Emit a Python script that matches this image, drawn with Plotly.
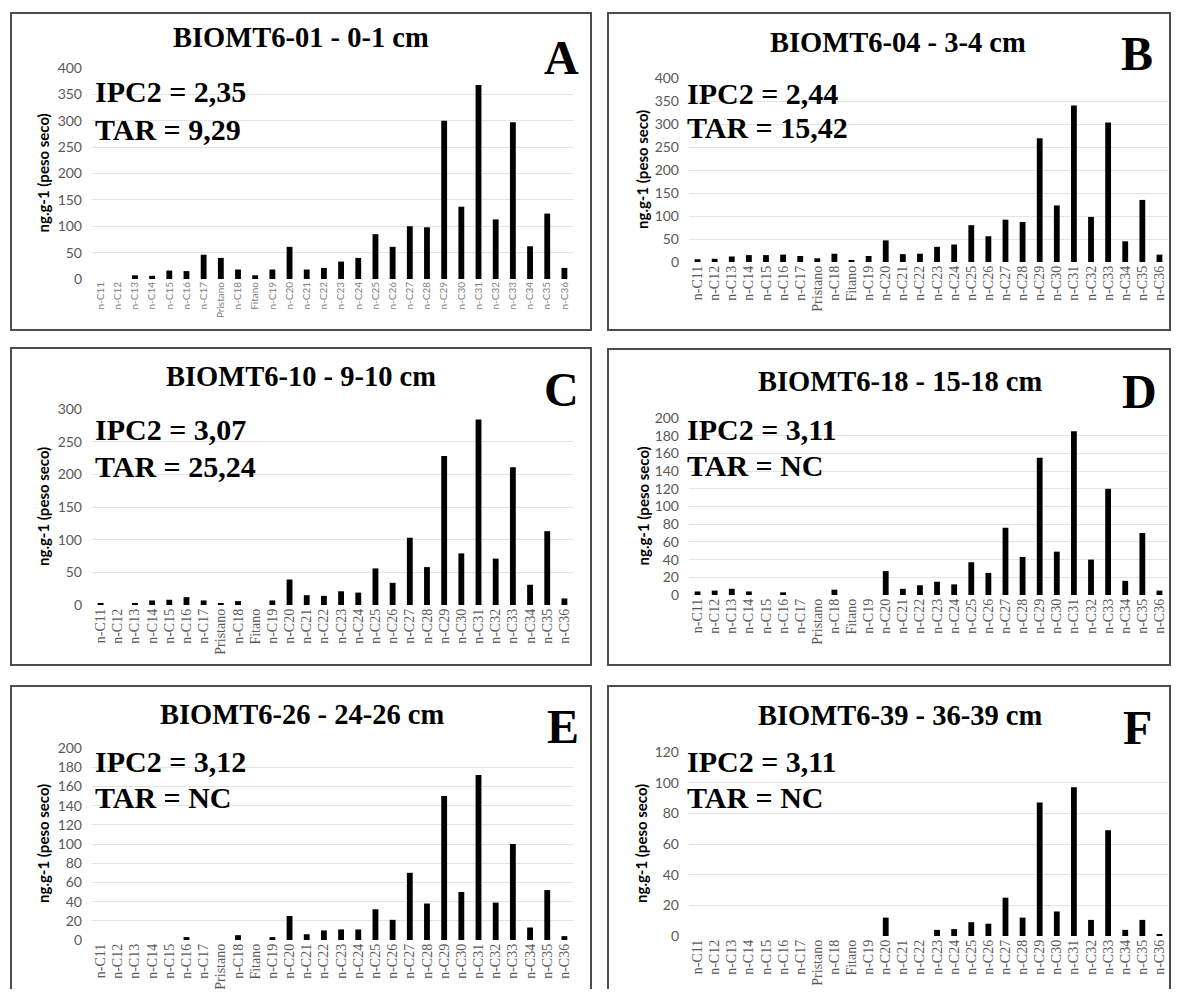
import plotly.graph_objects as go

# page is 1179x997; the browser body keeps its default 8px margin,
# so the figure itself is 16px smaller and every pixel position is shifted by 8
PAGE_W, PAGE_H = 1179, 997
OFF = 8
W, H = PAGE_W - 2 * OFF, PAGE_H - 2 * OFF

categories = ["n-C11", "n-C12", "n-C13", "n-C14", "n-C15", "n-C16", "n-C17", "Pristano",
              "n-C18", "Fitano", "n-C19", "n-C20", "n-C21", "n-C22", "n-C23", "n-C24",
              "n-C25", "n-C26", "n-C27", "n-C28", "n-C29", "n-C30", "n-C31", "n-C32",
              "n-C33", "n-C34", "n-C35", "n-C36"]

vals_A = [0, 0, 7, 6, 16, 15, 46, 40, 18, 7, 18, 61, 18, 21, 33, 40,
          85, 61, 100, 98, 300, 137, 368, 113, 297, 62, 124, 21]
vals_B = [6, 7, 12, 15, 15, 16, 13, 8, 18, 4, 13, 47, 17, 18, 33, 38,
          80, 56, 92, 87, 269, 123, 340, 98, 303, 45, 135, 16]
vals_C = [2, 0, 3, 7, 8, 12, 7, 2, 6, 0, 7, 39, 15, 14, 21, 19,
          56, 34, 103, 58, 228, 79, 284, 71, 211, 31, 113, 10]
vals_D = [4, 5, 7, 4, 0, 3, 0, 0, 6, 0, 0, 27, 7, 11, 15, 12,
          37, 25, 76, 43, 155, 49, 185, 40, 120, 16, 70, 5]
vals_E = [0, 0, 0, 0, 0, 3, 0, 0, 5, 0, 3, 25, 6, 10, 11, 11,
          32, 21, 70, 38, 150, 50, 172, 39, 100, 13, 52, 4]
vals_F = [0, 0, 0, 0, 0, 0, 0, 0, 0, 0, 0, 12, 0, 0, 4, 4.5,
          9, 8, 25, 12, 87, 16, 97, 10.5, 69, 4, 10.5, 1]

titles = ["BIOMT6-01 - 0-1 cm", "BIOMT6-04 - 3-4 cm", "BIOMT6-10 - 9-10 cm",
          "BIOMT6-18 - 15-18 cm", "BIOMT6-26 - 24-26 cm", "BIOMT6-39 - 36-39 cm"]
letters = ["A", "B", "C", "D", "E", "F"]
ipc2_labels = ["IPC2 = 2,35", "IPC2 = 2,44", "IPC2 = 3,07", "IPC2 = 3,11", "IPC2 = 3,12", "IPC2 = 3,11"]
tar_labels = ["TAR = 9,29", "TAR = 15,42", "TAR = 25,24", "TAR = NC", "TAR = NC", "TAR = NC"]
y_max = [400, 400, 300, 200, 200, 120]
y_step = [50, 50, 50, 20, 20, 20]
y_title = "ng.g-1 (peso seco)"

series = [vals_A, vals_B, vals_C, vals_D, vals_E, vals_F]

# layout geometry (page pixels)
plot_x = [(92, 573), (689, 1168), (92, 573), (689, 1168), (92, 573), (689, 1168)]
plot_y = [(68, 279), (78, 262), (409, 605), (418, 595), (748, 940), (752, 936)]
boxes = [(11, 13, 591, 330), (608, 13, 1170, 330), (11, 348, 591, 665),
         (608, 349, 1170, 665), (11, 686, 591, 1003), (608, 686, 1170, 1003)]
title_pos = [(301, 38), (898, 42), (301, 377), (900, 382), (302, 714), (900, 715)]
letter_pos = [(561, 57), (1137, 54), (561, 389), (1139, 391), (563, 726), (1137, 727)]
ipc_pos = [(93, 92), (685, 93), (93, 429), (685, 429), (93, 761), (685, 761)]
tar_pos = [(93, 129), (685, 128), (93, 466), (685, 465), (93, 797), (685, 797)]
ytitle_x = [43, 642, 43, 642, 43, 641]


def px(x):
    return (x - OFF) / W


def py(y):
    return 1 - (y - OFF) / H


fig = go.Figure()
layout = dict(
    template="none",
    width=W, height=H, margin=dict(l=0, r=0, t=0, b=0, pad=0, autoexpand=False),
    paper_bgcolor="white", plot_bgcolor="white", showlegend=False,
    bargap=0.65,
)
shapes = []
annotations = []

serif = "Liberation Serif, Times New Roman, serif"
sans = "Lato, Liberation Sans, sans-serif"

for i in range(6):
    sfx = "" if i == 0 else str(i + 1)
    xa, ya = "x" + sfx, "y" + sfx
    fig.add_trace(go.Bar(x=categories, y=series[i], marker=dict(color="black", line=dict(width=0)),
                         width=0.34, xaxis=xa, yaxis=ya, hoverinfo="x+y"))
    x0, x1 = plot_x[i]
    y0, y1 = plot_y[i]
    tickfont = (dict(family=sans, size=10, color="#7f7f7f") if i == 0
                else dict(family=serif, size=14, color="#595959"))
    layout["xaxis" + sfx] = dict(domain=[px(x0), px(x1)], anchor=ya, type="category",
                                 tickangle=-90, tickfont=tickfont, showgrid=False,
                                 automargin=False,
                                 showline=False, ticks="", zeroline=False, fixedrange=True)
    layout["yaxis" + sfx] = dict(domain=[py(y1), py(y0)], anchor=xa, range=[0, y_max[i]],
                                 dtick=y_step[i], tick0=0, showgrid=True, gridcolor="#e3e3e3",
                                 gridwidth=1, showline=False, zeroline=False, ticks="",
                                 automargin=False, ticklabelstandoff=9,
                                 tickfont=dict(family=sans, size=14, color="#595959"),
                                 fixedrange=True)
    bx0, by0, bx1, by1 = boxes[i]
    shapes.append(dict(type="rect", xref="paper", yref="paper", x0=px(bx0), x1=px(bx1),
                       y0=py(by1), y1=py(by0), line=dict(color="#4d4d4d", width=2),
                       fillcolor="rgba(0,0,0,0)", layer="above"))
    tx, ty = title_pos[i]
    annotations.append(dict(text="<b>" + titles[i] + "</b>", x=px(tx), y=py(ty), xref="paper",
                            yref="paper", xanchor="center", yanchor="middle", showarrow=False,
                            font=dict(family=serif, size=28.5, color="black")))
    lx, ly = letter_pos[i]
    annotations.append(dict(text="<b>" + letters[i] + "</b>", x=px(lx), y=py(ly), xref="paper",
                            yref="paper", xanchor="center", yanchor="middle", showarrow=False,
                            font=dict(family=serif, size=48, color="black")))
    ix, iy = ipc_pos[i]
    annotations.append(dict(text="<b>" + ipc2_labels[i] + "</b>", x=px(ix), y=py(iy), xref="paper",
                            yref="paper", xanchor="left", yanchor="middle", showarrow=False,
                            font=dict(family=serif, size=30, color="black")))
    tx2, ty2 = tar_pos[i]
    annotations.append(dict(text="<b>" + tar_labels[i] + "</b>", x=px(tx2), y=py(ty2), xref="paper",
                            yref="paper", xanchor="left", yanchor="middle", showarrow=False,
                            font=dict(family=serif, size=30, color="black")))
    annotations.append(dict(text="<b>" + y_title + "</b>", x=px(ytitle_x[i]), y=py((y0 + y1) / 2),
                            xref="paper", yref="paper", xanchor="center", yanchor="middle",
                            textangle=-90, showarrow=False,
                            font=dict(family=sans, size=15, color="black")))

layout["shapes"] = shapes
layout["annotations"] = annotations
fig.update_layout(**layout)

fig.write_html("out.html", config={"displayModeBar": False})
